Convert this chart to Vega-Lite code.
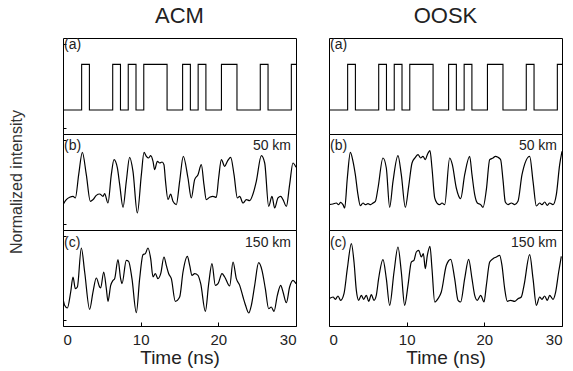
{
  "$schema": "https://vega.github.io/schema/vega-lite/v6.json",
  "padding": {"left": 8, "top": 5, "right": 2, "bottom": 2},
  "bounds": "flush",
  "datasets": {
    "waves": [
      {"col":"ACM","row":"a","t":0,"v":0},{"col":"ACM","row":"a","t":2.4,"v":0.95},{"col":"ACM","row":"a","t":3.4,"v":0},{"col":"ACM","row":"a","t":6.4,"v":0.95},{"col":"ACM","row":"a","t":7.4,"v":0},{"col":"ACM","row":"a","t":8.4,"v":0.95},{"col":"ACM","row":"a","t":9.4,"v":0},{"col":"ACM","row":"a","t":10.4,"v":0.95},{"col":"ACM","row":"a","t":13.4,"v":0},{"col":"ACM","row":"a","t":15.4,"v":0.95},{"col":"ACM","row":"a","t":16.4,"v":0},{"col":"ACM","row":"a","t":17.4,"v":0.95},{"col":"ACM","row":"a","t":18.4,"v":0},{"col":"ACM","row":"a","t":20.4,"v":0.95},{"col":"ACM","row":"a","t":22.4,"v":0},{"col":"ACM","row":"a","t":25.4,"v":0.95},{"col":"ACM","row":"a","t":26.4,"v":0},{"col":"ACM","row":"a","t":29.4,"v":0.95},{"col":"ACM","row":"a","t":30,"v":0.95},
      {"col":"OOSK","row":"a","t":0,"v":0},{"col":"OOSK","row":"a","t":2.4,"v":0.95},{"col":"OOSK","row":"a","t":3.4,"v":0},{"col":"OOSK","row":"a","t":6.4,"v":0.95},{"col":"OOSK","row":"a","t":7.4,"v":0},{"col":"OOSK","row":"a","t":8.4,"v":0.95},{"col":"OOSK","row":"a","t":9.4,"v":0},{"col":"OOSK","row":"a","t":10.4,"v":0.95},{"col":"OOSK","row":"a","t":13.4,"v":0},{"col":"OOSK","row":"a","t":15.4,"v":0.95},{"col":"OOSK","row":"a","t":16.4,"v":0},{"col":"OOSK","row":"a","t":17.4,"v":0.95},{"col":"OOSK","row":"a","t":18.4,"v":0},{"col":"OOSK","row":"a","t":20.4,"v":0.95},{"col":"OOSK","row":"a","t":22.4,"v":0},{"col":"OOSK","row":"a","t":25.4,"v":0.95},{"col":"OOSK","row":"a","t":26.4,"v":0},{"col":"OOSK","row":"a","t":29.4,"v":0.95},{"col":"OOSK","row":"a","t":30,"v":0.95},

      {"col":"ACM","row":"b","t":0,"v":0.028},{"col":"ACM","row":"b","t":0.43,"v":0.132},{"col":"ACM","row":"b","t":0.86,"v":0.181},{"col":"ACM","row":"b","t":1.29,"v":0.201},{"col":"ACM","row":"b","t":1.59,"v":0.167},{"col":"ACM","row":"b","t":2.02,"v":0.653},{"col":"ACM","row":"b","t":2.49,"v":1.118},{"col":"ACM","row":"b","t":3.0,"v":0.653},{"col":"ACM","row":"b","t":3.52,"v":0.097},{"col":"ACM","row":"b","t":3.86,"v":0.132},{"col":"ACM","row":"b","t":4.29,"v":0.222},{"col":"ACM","row":"b","t":4.72,"v":0.25},{"col":"ACM","row":"b","t":5.15,"v":0.201},{"col":"ACM","row":"b","t":5.36,"v":0.257},{"col":"ACM","row":"b","t":5.79,"v":0.062},{"col":"ACM","row":"b","t":6.22,"v":0.653},{"col":"ACM","row":"b","t":6.57,"v":0.965},{"col":"ACM","row":"b","t":7.0,"v":0.792},{"col":"ACM","row":"b","t":7.3,"v":0.444},{"col":"ACM","row":"b","t":7.73,"v":-0.028},{"col":"ACM","row":"b","t":8.15,"v":0.514},{"col":"ACM","row":"b","t":8.58,"v":1.014},{"col":"ACM","row":"b","t":9.01,"v":0.722},{"col":"ACM","row":"b","t":9.57,"v":-0.146},{"col":"ACM","row":"b","t":10.09,"v":0.653},{"col":"ACM","row":"b","t":10.43,"v":1.118},{"col":"ACM","row":"b","t":10.73,"v":1.035},{"col":"ACM","row":"b","t":11.03,"v":1.0},{"col":"ACM","row":"b","t":11.29,"v":1.049},{"col":"ACM","row":"b","t":11.59,"v":0.931},{"col":"ACM","row":"b","t":11.8,"v":0.757},{"col":"ACM","row":"b","t":12.15,"v":0.931},{"col":"ACM","row":"b","t":12.45,"v":0.896},{"col":"ACM","row":"b","t":12.75,"v":0.917},{"col":"ACM","row":"b","t":13.0,"v":0.861},{"col":"ACM","row":"b","t":13.18,"v":0.549},{"col":"ACM","row":"b","t":13.52,"v":0.132},{"col":"ACM","row":"b","t":13.86,"v":0.25},{"col":"ACM","row":"b","t":14.16,"v":0.097},{"col":"ACM","row":"b","t":14.59,"v":0.028},{"col":"ACM","row":"b","t":15.02,"v":0.514},{"col":"ACM","row":"b","t":15.49,"v":1.035},{"col":"ACM","row":"b","t":16.09,"v":0.583},{"col":"ACM","row":"b","t":16.52,"v":0.167},{"col":"ACM","row":"b","t":16.95,"v":0.549},{"col":"ACM","row":"b","t":17.38,"v":0.653},{"col":"ACM","row":"b","t":17.81,"v":0.861},{"col":"ACM","row":"b","t":18.15,"v":0.444},{"col":"ACM","row":"b","t":18.45,"v":0.132},{"col":"ACM","row":"b","t":18.88,"v":0.181},{"col":"ACM","row":"b","t":19.31,"v":0.201},{"col":"ACM","row":"b","t":19.74,"v":0.181},{"col":"ACM","row":"b","t":20.04,"v":0.583},{"col":"ACM","row":"b","t":20.39,"v":0.965},{"col":"ACM","row":"b","t":20.82,"v":0.826},{"col":"ACM","row":"b","t":21.16,"v":0.931},{"col":"ACM","row":"b","t":21.59,"v":1.014},{"col":"ACM","row":"b","t":22.02,"v":0.653},{"col":"ACM","row":"b","t":22.45,"v":0.167},{"col":"ACM","row":"b","t":22.75,"v":0.201},{"col":"ACM","row":"b","t":23.18,"v":0.062},{"col":"ACM","row":"b","t":23.61,"v":0.132},{"col":"ACM","row":"b","t":24.03,"v":0.111},{"col":"ACM","row":"b","t":24.46,"v":0.25},{"col":"ACM","row":"b","t":24.89,"v":0.514},{"col":"ACM","row":"b","t":25.54,"v":1.049},{"col":"ACM","row":"b","t":25.97,"v":0.896},{"col":"ACM","row":"b","t":26.48,"v":-0.007},{"col":"ACM","row":"b","t":26.91,"v":0.201},{"col":"ACM","row":"b","t":27.25,"v":-0.042},{"col":"ACM","row":"b","t":27.68,"v":0.167},{"col":"ACM","row":"b","t":28.03,"v":0.201},{"col":"ACM","row":"b","t":28.33,"v":0.132},{"col":"ACM","row":"b","t":28.76,"v":-0.007},{"col":"ACM","row":"b","t":29.18,"v":0.444},{"col":"ACM","row":"b","t":29.61,"v":0.896},{"col":"ACM","row":"b","t":30.0,"v":0.806},

      {"col":"ACM","row":"c","t":0,"v":0.069},{"col":"ACM","row":"c","t":0.21,"v":-0.069},{"col":"ACM","row":"c","t":0.56,"v":-0.125},{"col":"ACM","row":"c","t":0.99,"v":0.208},{"col":"ACM","row":"c","t":1.29,"v":0.521},{"col":"ACM","row":"c","t":1.59,"v":0.278},{"col":"ACM","row":"c","t":1.85,"v":0.312},{"col":"ACM","row":"c","t":2.36,"v":1.125},{"col":"ACM","row":"c","t":2.79,"v":0.625},{"col":"ACM","row":"c","t":3.43,"v":-0.153},{"col":"ACM","row":"c","t":3.86,"v":0.208},{"col":"ACM","row":"c","t":4.29,"v":0.5},{"col":"ACM","row":"c","t":4.72,"v":0.312},{"col":"ACM","row":"c","t":4.85,"v":0.292},{"col":"ACM","row":"c","t":5.24,"v":0.625},{"col":"ACM","row":"c","t":5.58,"v":0.278},{"col":"ACM","row":"c","t":5.79,"v":0.014},{"col":"ACM","row":"c","t":6.14,"v":0.347},{"col":"ACM","row":"c","t":6.44,"v":0.451},{"col":"ACM","row":"c","t":6.65,"v":0.486},{"col":"ACM","row":"c","t":7.08,"v":0.882},{"col":"ACM","row":"c","t":7.42,"v":0.486},{"col":"ACM","row":"c","t":7.6,"v":0.382},{"col":"ACM","row":"c","t":8.15,"v":0.868},{"col":"ACM","row":"c","t":8.45,"v":0.847},{"col":"ACM","row":"c","t":8.88,"v":0.486},{"col":"ACM","row":"c","t":9.44,"v":-0.222},{"col":"ACM","row":"c","t":9.87,"v":0.486},{"col":"ACM","row":"c","t":10.3,"v":0.986},{"col":"ACM","row":"c","t":10.6,"v":1.007},{"col":"ACM","row":"c","t":10.94,"v":1.125},{"col":"ACM","row":"c","t":11.29,"v":0.903},{"col":"ACM","row":"c","t":11.59,"v":0.521},{"col":"ACM","row":"c","t":11.89,"v":0.59},{"col":"ACM","row":"c","t":12.23,"v":0.486},{"col":"ACM","row":"c","t":12.58,"v":0.59},{"col":"ACM","row":"c","t":13.0,"v":0.937},{"col":"ACM","row":"c","t":13.3,"v":0.764},{"col":"ACM","row":"c","t":13.61,"v":0.59},{"col":"ACM","row":"c","t":13.95,"v":0.486},{"col":"ACM","row":"c","t":14.46,"v":0.014},{"col":"ACM","row":"c","t":15.02,"v":0.104},{"col":"ACM","row":"c","t":15.45,"v":0.625},{"col":"ACM","row":"c","t":16.01,"v":0.951},{"col":"ACM","row":"c","t":16.31,"v":0.764},{"col":"ACM","row":"c","t":16.61,"v":0.556},{"col":"ACM","row":"c","t":16.95,"v":0.59},{"col":"ACM","row":"c","t":17.38,"v":0.556},{"col":"ACM","row":"c","t":17.73,"v":0.382},{"col":"ACM","row":"c","t":18.33,"v":-0.194},{"col":"ACM","row":"c","t":18.76,"v":0.382},{"col":"ACM","row":"c","t":19.18,"v":0.799},{"col":"ACM","row":"c","t":19.61,"v":0.347},{"col":"ACM","row":"c","t":19.96,"v":0.382},{"col":"ACM","row":"c","t":20.47,"v":0.59},{"col":"ACM","row":"c","t":20.82,"v":0.521},{"col":"ACM","row":"c","t":21.46,"v":0.333},{"col":"ACM","row":"c","t":21.89,"v":0.833},{"col":"ACM","row":"c","t":22.32,"v":0.486},{"col":"ACM","row":"c","t":22.75,"v":0.347},{"col":"ACM","row":"c","t":23.18,"v":0.104},{"col":"ACM","row":"c","t":23.48,"v":-0.056},{"col":"ACM","row":"c","t":23.91,"v":-0.229},{"col":"ACM","row":"c","t":24.25,"v":-0.069},{"col":"ACM","row":"c","t":24.68,"v":0.347},{"col":"ACM","row":"c","t":25.19,"v":0.819},{"col":"ACM","row":"c","t":25.62,"v":0.66},{"col":"ACM","row":"c","t":26.05,"v":0.278},{"col":"ACM","row":"c","t":26.48,"v":-0.139},{"col":"ACM","row":"c","t":26.82,"v":-0.104},{"col":"ACM","row":"c","t":27.17,"v":-0.194},{"col":"ACM","row":"c","t":27.6,"v":0.139},{"col":"ACM","row":"c","t":28.03,"v":0.347},{"col":"ACM","row":"c","t":28.33,"v":0.208},{"col":"ACM","row":"c","t":28.76,"v":-0.014},{"col":"ACM","row":"c","t":29.18,"v":0.312},{"col":"ACM","row":"c","t":29.61,"v":0.451},{"col":"ACM","row":"c","t":30.0,"v":0.382},

      {"col":"OOSK","row":"b","t":0.0,"v":0.028},{"col":"OOSK","row":"b","t":0.52,"v":0.042},{"col":"OOSK","row":"b","t":0.94,"v":0.062},{"col":"OOSK","row":"b","t":1.24,"v":0.028},{"col":"OOSK","row":"b","t":1.5,"v":0.076},{"col":"OOSK","row":"b","t":1.8,"v":0.028},{"col":"OOSK","row":"b","t":2.02,"v":-0.042},{"col":"OOSK","row":"b","t":2.36,"v":0.583},{"col":"OOSK","row":"b","t":2.75,"v":1.118},{"col":"OOSK","row":"b","t":3.09,"v":0.931},{"col":"OOSK","row":"b","t":3.39,"v":0.653},{"col":"OOSK","row":"b","t":3.73,"v":0.236},{"col":"OOSK","row":"b","t":4.03,"v":0.007},{"col":"OOSK","row":"b","t":4.38,"v":0.062},{"col":"OOSK","row":"b","t":4.68,"v":0.028},{"col":"OOSK","row":"b","t":5.02,"v":0.049},{"col":"OOSK","row":"b","t":5.36,"v":0.028},{"col":"OOSK","row":"b","t":5.67,"v":0.062},{"col":"OOSK","row":"b","t":5.97,"v":0.097},{"col":"OOSK","row":"b","t":6.31,"v":0.375},{"col":"OOSK","row":"b","t":6.95,"v":1.0},{"col":"OOSK","row":"b","t":7.38,"v":0.792},{"col":"OOSK","row":"b","t":7.81,"v":-0.028},{"col":"OOSK","row":"b","t":8.24,"v":0.514},{"col":"OOSK","row":"b","t":8.88,"v":1.049},{"col":"OOSK","row":"b","t":9.31,"v":0.653},{"col":"OOSK","row":"b","t":9.83,"v":-0.028},{"col":"OOSK","row":"b","t":10.26,"v":0.41},{"col":"OOSK","row":"b","t":10.69,"v":0.896},{"col":"OOSK","row":"b","t":11.12,"v":1.014},{"col":"OOSK","row":"b","t":11.46,"v":1.069},{"col":"OOSK","row":"b","t":11.8,"v":1.0},{"col":"OOSK","row":"b","t":12.1,"v":1.035},{"col":"OOSK","row":"b","t":12.4,"v":0.965},{"col":"OOSK","row":"b","t":12.66,"v":1.069},{"col":"OOSK","row":"b","t":13.0,"v":1.153},{"col":"OOSK","row":"b","t":13.26,"v":0.792},{"col":"OOSK","row":"b","t":13.61,"v":0.167},{"col":"OOSK","row":"b","t":13.91,"v":0.062},{"col":"OOSK","row":"b","t":14.25,"v":0.028},{"col":"OOSK","row":"b","t":14.55,"v":0.062},{"col":"OOSK","row":"b","t":14.89,"v":0.028},{"col":"OOSK","row":"b","t":15.54,"v":1.0},{"col":"OOSK","row":"b","t":15.88,"v":0.861},{"col":"OOSK","row":"b","t":16.39,"v":0.375},{"col":"OOSK","row":"b","t":16.95,"v":0.153},{"col":"OOSK","row":"b","t":17.47,"v":0.653},{"col":"OOSK","row":"b","t":18.11,"v":1.035},{"col":"OOSK","row":"b","t":18.41,"v":0.653},{"col":"OOSK","row":"b","t":18.76,"v":0.236},{"col":"OOSK","row":"b","t":19.1,"v":0.062},{"col":"OOSK","row":"b","t":19.53,"v":0.028},{"col":"OOSK","row":"b","t":19.83,"v":-0.028},{"col":"OOSK","row":"b","t":20.26,"v":0.34},{"col":"OOSK","row":"b","t":20.69,"v":0.965},{"col":"OOSK","row":"b","t":21.12,"v":1.0},{"col":"OOSK","row":"b","t":21.42,"v":1.035},{"col":"OOSK","row":"b","t":21.76,"v":1.014},{"col":"OOSK","row":"b","t":22.1,"v":0.965},{"col":"OOSK","row":"b","t":22.4,"v":0.549},{"col":"OOSK","row":"b","t":22.7,"v":0.083},{"col":"OOSK","row":"b","t":23.05,"v":0.028},{"col":"OOSK","row":"b","t":23.48,"v":0.062},{"col":"OOSK","row":"b","t":23.91,"v":0.028},{"col":"OOSK","row":"b","t":24.33,"v":0.097},{"col":"OOSK","row":"b","t":24.85,"v":0.653},{"col":"OOSK","row":"b","t":25.84,"v":1.035},{"col":"OOSK","row":"b","t":26.27,"v":0.514},{"col":"OOSK","row":"b","t":26.7,"v":0.0},{"col":"OOSK","row":"b","t":27.12,"v":0.062},{"col":"OOSK","row":"b","t":27.42,"v":0.028},{"col":"OOSK","row":"b","t":27.77,"v":0.083},{"col":"OOSK","row":"b","t":28.11,"v":0.014},{"col":"OOSK","row":"b","t":28.41,"v":0.062},{"col":"OOSK","row":"b","t":28.84,"v":0.028},{"col":"OOSK","row":"b","t":29.27,"v":0.236},{"col":"OOSK","row":"b","t":29.7,"v":0.861},{"col":"OOSK","row":"b","t":30.0,"v":1.139},

      {"col":"OOSK","row":"c","t":0.0,"v":0.069},{"col":"OOSK","row":"c","t":0.52,"v":0.104},{"col":"OOSK","row":"c","t":0.82,"v":0.056},{"col":"OOSK","row":"c","t":1.16,"v":0.125},{"col":"OOSK","row":"c","t":1.5,"v":0.035},{"col":"OOSK","row":"c","t":1.93,"v":0.174},{"col":"OOSK","row":"c","t":2.36,"v":0.694},{"col":"OOSK","row":"c","t":2.88,"v":1.215},{"col":"OOSK","row":"c","t":3.22,"v":0.833},{"col":"OOSK","row":"c","t":3.52,"v":0.243},{"col":"OOSK","row":"c","t":3.82,"v":0.035},{"col":"OOSK","row":"c","t":4.16,"v":0.139},{"col":"OOSK","row":"c","t":4.46,"v":0.056},{"col":"OOSK","row":"c","t":4.81,"v":0.139},{"col":"OOSK","row":"c","t":5.11,"v":0.014},{"col":"OOSK","row":"c","t":5.45,"v":0.153},{"col":"OOSK","row":"c","t":5.79,"v":0.035},{"col":"OOSK","row":"c","t":6.09,"v":0.139},{"col":"OOSK","row":"c","t":6.39,"v":0.486},{"col":"OOSK","row":"c","t":6.95,"v":0.882},{"col":"OOSK","row":"c","t":7.38,"v":0.486},{"col":"OOSK","row":"c","t":7.81,"v":-0.069},{"col":"OOSK","row":"c","t":8.37,"v":0.625},{"col":"OOSK","row":"c","t":8.88,"v":1.146},{"col":"OOSK","row":"c","t":9.31,"v":0.625},{"col":"OOSK","row":"c","t":9.74,"v":-0.069},{"col":"OOSK","row":"c","t":10.17,"v":0.347},{"col":"OOSK","row":"c","t":10.6,"v":0.833},{"col":"OOSK","row":"c","t":10.94,"v":0.868},{"col":"OOSK","row":"c","t":11.24,"v":1.042},{"col":"OOSK","row":"c","t":11.55,"v":1.076},{"col":"OOSK","row":"c","t":11.89,"v":0.937},{"col":"OOSK","row":"c","t":12.15,"v":1.007},{"col":"OOSK","row":"c","t":12.4,"v":0.694},{"col":"OOSK","row":"c","t":12.66,"v":0.972},{"col":"OOSK","row":"c","t":13.0,"v":1.16},{"col":"OOSK","row":"c","t":13.26,"v":0.694},{"col":"OOSK","row":"c","t":13.61,"v":0.0},{"col":"OOSK","row":"c","t":14.03,"v":0.069},{"col":"OOSK","row":"c","t":14.46,"v":0.208},{"col":"OOSK","row":"c","t":15.11,"v":0.764},{"col":"OOSK","row":"c","t":15.67,"v":0.889},{"col":"OOSK","row":"c","t":16.18,"v":0.486},{"col":"OOSK","row":"c","t":16.61,"v":0.035},{"col":"OOSK","row":"c","t":16.95,"v":0.0},{"col":"OOSK","row":"c","t":17.47,"v":0.486},{"col":"OOSK","row":"c","t":17.98,"v":0.889},{"col":"OOSK","row":"c","t":18.41,"v":0.486},{"col":"OOSK","row":"c","t":18.76,"v":0.139},{"col":"OOSK","row":"c","t":19.1,"v":0.035},{"col":"OOSK","row":"c","t":19.53,"v":0.139},{"col":"OOSK","row":"c","t":19.96,"v":0.0},{"col":"OOSK","row":"c","t":20.26,"v":0.347},{"col":"OOSK","row":"c","t":20.69,"v":0.833},{"col":"OOSK","row":"c","t":21.12,"v":0.903},{"col":"OOSK","row":"c","t":21.55,"v":0.937},{"col":"OOSK","row":"c","t":21.97,"v":0.972},{"col":"OOSK","row":"c","t":22.27,"v":0.764},{"col":"OOSK","row":"c","t":22.62,"v":0.278},{"col":"OOSK","row":"c","t":22.96,"v":0.014},{"col":"OOSK","row":"c","t":23.39,"v":0.035},{"col":"OOSK","row":"c","t":23.91,"v":0.014},{"col":"OOSK","row":"c","t":24.33,"v":0.069},{"col":"OOSK","row":"c","t":24.76,"v":0.104},{"col":"OOSK","row":"c","t":25.11,"v":0.347},{"col":"OOSK","row":"c","t":25.84,"v":0.986},{"col":"OOSK","row":"c","t":26.27,"v":0.486},{"col":"OOSK","row":"c","t":26.7,"v":-0.069},{"col":"OOSK","row":"c","t":27.12,"v":0.104},{"col":"OOSK","row":"c","t":27.42,"v":0.056},{"col":"OOSK","row":"c","t":27.77,"v":0.125},{"col":"OOSK","row":"c","t":28.11,"v":0.035},{"col":"OOSK","row":"c","t":28.41,"v":0.139},{"col":"OOSK","row":"c","t":28.84,"v":0.056},{"col":"OOSK","row":"c","t":29.18,"v":0.208},{"col":"OOSK","row":"c","t":29.57,"v":0.625},{"col":"OOSK","row":"c","t":29.91,"v":0.951},

      {"col":"ACM","row":"a","lab":"(a)","side":"L","lx":0,"ly":1.36},
      {"col":"ACM","row":"b","lab":"(b)","side":"L","lx":0,"ly":1.24},
      {"col":"ACM","row":"c","lab":"(c)","side":"L","lx":0,"ly":1.22},
      {"col":"ACM","row":"b","lab":"50 km","side":"R","lx":30,"ly":1.24},
      {"col":"ACM","row":"c","lab":"150 km","side":"R","lx":30,"ly":1.22},
      {"col":"OOSK","row":"a","lab":"(a)","side":"L","lx":0,"ly":1.36},
      {"col":"OOSK","row":"b","lab":"(b)","side":"L","lx":0,"ly":1.24},
      {"col":"OOSK","row":"c","lab":"(c)","side":"L","lx":0,"ly":1.22},
      {"col":"OOSK","row":"b","lab":"50 km","side":"R","lx":30,"ly":1.24},
      {"col":"OOSK","row":"c","lab":"150 km","side":"R","lx":30,"ly":1.22}
    ]
  },
  "data": {"name": "waves"},
  "facet": {
    "column": {"field": "col", "type": "nominal", "sort": ["ACM", "OOSK"],
      "header": {"title": null, "labelFont": "Liberation Sans", "labelFontSize": 22, "labelColor": "#222", "labelPadding": 10}},
    "row": {"field": "row", "type": "nominal", "sort": ["a", "b", "c"],
      "header": {"labels": false, "title": "Normalized intensity", "titleFont": "Liberation Sans", "titleFontSize": 16, "titleFontWeight": "normal", "titleColor": "#333", "titlePadding": 27}}
  },
  "spacing": {"row": 0, "column": 33},
  "spec": {
    "width": 233,
    "height": 96,
    "layer": [
      {
        "transform": [{"filter": "datum.row == 'a' && isValid(datum.t)"}],
        "mark": {"type": "line", "interpolate": "step-after", "color": "black", "strokeWidth": 1.1, "clip": true},
        "encoding": {
          "x": {"field": "t", "type": "quantitative"},
          "y": {"field": "v", "type": "quantitative"}
        }
      },
      {
        "transform": [{"filter": "datum.row != 'a' && isValid(datum.t)"}],
        "mark": {"type": "line", "interpolate": "monotone", "color": "black", "strokeWidth": 1.2, "clip": true},
        "encoding": {
          "x": {"field": "t", "type": "quantitative", "scale": {"domain": [0, 30], "nice": false},
            "axis": {"title": "Time (ns)", "values": [0, 5, 10, 15, 20, 25, 30], "labelExpr": "datum.value % 10 == 0 ? datum.label : ''", "grid": false, "domain": false, "tickSize": -4, "tickColor": "black", "labelPadding": 10, "labelFont": "Liberation Sans", "labelFontSize": 15, "labelColor": "#222", "titleFont": "Liberation Sans", "titleFontSize": 19, "titleFontWeight": "normal", "titleColor": "#222", "titlePadding": 1}},
          "y": {"field": "v", "type": "quantitative", "scale": {"domain": [-0.5, 1.5], "nice": false, "zero": false},
            "axis": {"title": null, "labels": false, "grid": false, "domain": false, "tickSize": -3, "tickColor": "black", "values": [-0.375, -0.25, -0.125, 0, 0.125, 0.25, 0.375, 0.5, 0.625, 0.75, 0.875, 1, 1.125, 1.25, 1.375]}}
        }
      },
      {
        "transform": [{"filter": "datum.side == 'L'"}],
        "mark": {"type": "text", "align": "left", "baseline": "middle", "dx": 1, "font": "Liberation Sans", "fontSize": 14, "color": "#222"},
        "encoding": {
          "x": {"field": "lx", "type": "quantitative"},
          "y": {"field": "ly", "type": "quantitative"},
          "text": {"field": "lab"}
        }
      },
      {
        "transform": [{"filter": "datum.side == 'R'"}],
        "mark": {"type": "text", "align": "right", "baseline": "middle", "dx": -5, "font": "Liberation Sans", "fontSize": 14, "color": "#222"},
        "encoding": {
          "x": {"field": "lx", "type": "quantitative"},
          "y": {"field": "ly", "type": "quantitative"},
          "text": {"field": "lab"}
        }
      }
    ]
  },
  "config": {
    "view": {"stroke": "black", "strokeWidth": 1},
    "background": "white"
  }
}
